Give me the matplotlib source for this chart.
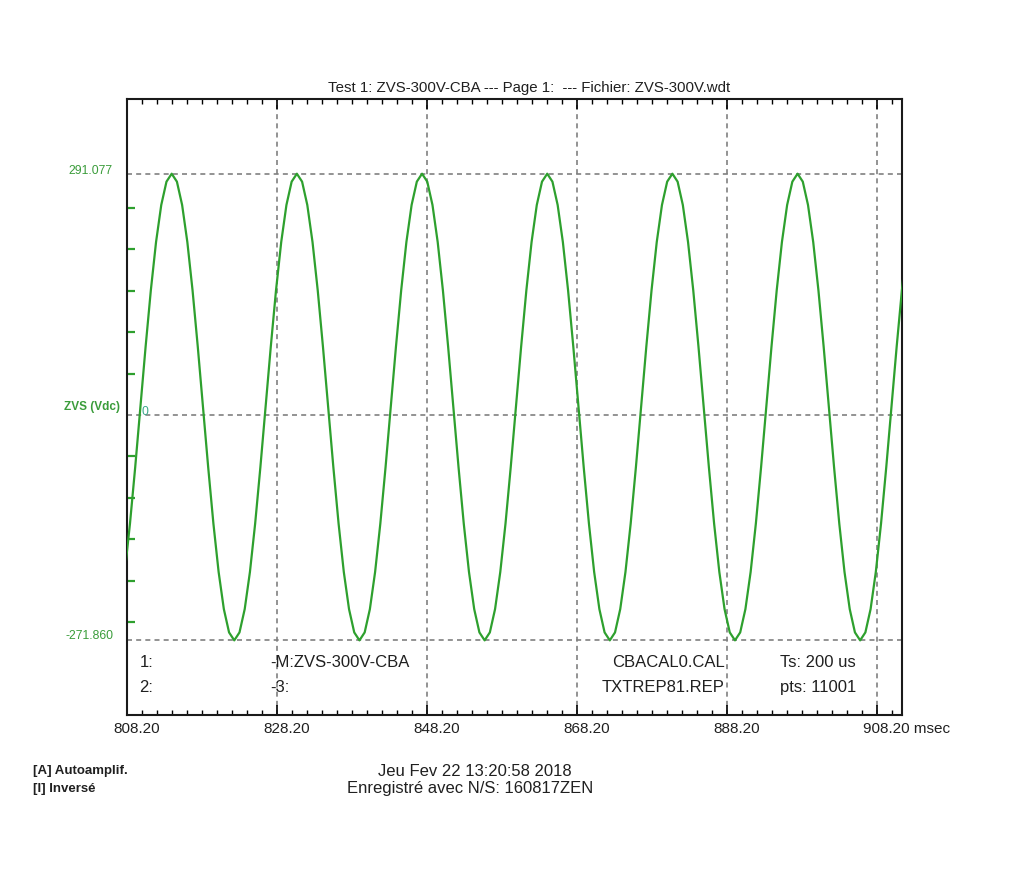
import numpy as np
import matplotlib.pyplot as plt
from matplotlib.transforms import ScaledTranslation

plt.rcParams['font.family'] = ['Liberation Sans', 'DejaVu Sans']

# ZVS trace, one sample every 1/24 cycle (~0.695 ms)
t_start = 807.90   # msec, first sample (just left of the window)
t_step = 0.6954    # msec
zvs = [
    -189.42, -131.13, -63.24, 9.61, 82.46, 150.34, 208.64, 253.37, 281.49, 291.08, 281.49, 253.37,
    208.64, 150.34, 82.46, 9.61, -63.24, -131.13, -189.42, -234.15, -262.27, -271.86, -262.27, -234.15,
    -189.42, -131.13, -63.24, 9.61, 82.46, 150.34, 208.64, 253.37, 281.49, 291.08, 281.49, 253.37,
    208.64, 150.34, 82.46, 9.61, -63.24, -131.13, -189.42, -234.15, -262.27, -271.86, -262.27, -234.15,
    -189.42, -131.13, -63.24, 9.61, 82.46, 150.34, 208.64, 253.37, 281.49, 291.08, 281.49, 253.37,
    208.64, 150.34, 82.46, 9.61, -63.24, -131.13, -189.42, -234.15, -262.27, -271.86, -262.27, -234.15,
    -189.42, -131.13, -63.24, 9.61, 82.46, 150.34, 208.64, 253.37, 281.49, 291.08, 281.49, 253.37,
    208.64, 150.34, 82.46, 9.61, -63.24, -131.13, -189.42, -234.15, -262.27, -271.86, -262.27, -234.15,
    -189.42, -131.13, -63.24, 9.61, 82.46, 150.34, 208.64, 253.37, 281.49, 291.08, 281.49, 253.37,
    208.64, 150.34, 82.46, 9.61, -63.24, -131.13, -189.42, -234.15, -262.27, -271.86, -262.27, -234.15,
    -189.42, -131.13, -63.24, 9.61, 82.46, 150.34, 208.64, 253.37, 281.49, 291.08, 281.49, 253.37,
    208.64, 150.34, 82.46, 9.61, -63.24, -131.13, -189.42, -234.15, -262.27, -271.86, -262.27, -234.15,
    -189.42, -131.13, -63.24, 9.61, 82.46, 150.34, 208.64,
]
t = t_start + t_step * np.arange(len(zvs))

y_max = 291.077
y_min = -271.860
x_major = [808.20, 828.20, 848.20, 868.20, 888.20, 908.20]
x_labels = ['808.20', '828.20', '848.20', '868.20', '888.20', '908.20 msec']
y_ticks = [-250, -200, -150, -100, -50, 50, 100, 150, 200, 250]

green = '#2ea02e'
lab_green = '#3a9c3a'
ink = '#202020'
dash = '#808080'

fig = plt.figure(figsize=(10.30, 8.73), dpi=100)
ax = fig.add_axes([127/1030, 1 - 715/873, 775/1030, 616/873])

ax.plot(t, zvs, color=green, lw=1.6, zorder=3)

ax.set_xlim(808.20, 911.53)
ax.set_ylim(-361.9, 381.2)

# dashed reference lines
for yv in [y_max, 0, y_min]:
    ax.axhline(yv, color=dash, lw=1.2, ls=(0, (3, 2.5)), zorder=1)
for xv in x_major[1:]:
    ax.axvline(xv, color=dash, lw=1.2, ls=(0, (3, 2.5)), zorder=1)

ax.set_xticks(x_major)
ax.set_xticks(np.arange(808.20, 911.5, 2.0), minor=True)
ax.set_xticklabels(x_labels, fontsize=11, color=ink)
ax.tick_params(axis='x', which='major', direction='in', length=7, width=1.2,
               top=True, bottom=True, pad=5, colors='black', labelcolor=ink)
ax.tick_params(axis='x', which='minor', direction='in', length=3.5, width=1.0,
               top=True, bottom=True, colors='black')
off = ScaledTranslation(-14/100, 0, fig.dpi_scale_trans)
for lbl in ax.get_xticklabels():
    lbl.set_ha('left')
    lbl.set_transform(lbl.get_transform() + off)

ax.set_yticks(y_ticks)
ax.set_yticklabels([])
ax.tick_params(axis='y', which='major', direction='in', length=6, width=1.6,
               colors=green, left=True, right=False)

for sp in ax.spines.values():
    sp.set_linewidth(1.5)
    sp.set_color('#1a1a1a')

# y-axis annotations
bt = ax.get_yaxis_transform()
ax.annotate('291.077', xy=(0, y_max), xycoords=bt, xytext=(-14, 3), textcoords='offset pixels',
            ha='right', va='center', fontsize=8.8, color=lab_green)
ax.annotate('-271.860', xy=(0, y_min), xycoords=bt, xytext=(-14, 4), textcoords='offset pixels',
            ha='right', va='center', fontsize=8.8, color=lab_green)
ax.annotate('ZVS (Vdc)', xy=(0, 0), xycoords=bt, xytext=(-7, 8), textcoords='offset pixels',
            ha='right', va='center', fontsize=8.5, fontweight='bold', color=lab_green)
ax.annotate('0', xy=(0, 0), xycoords=bt, xytext=(14, 3), textcoords='offset pixels',
            ha='left', va='center', fontsize=8.8, color='#3aa88a')

# info block inside the plot
fs_in = 12
ax.text(0.016, 0.086, '1:', transform=ax.transAxes, fontsize=fs_in, color=ink, va='center')
ax.text(0.016, 0.044, '2:', transform=ax.transAxes, fontsize=fs_in, color=ink, va='center')
ax.text(0.1845, 0.086, '-M:ZVS-300V-CBA', transform=ax.transAxes, fontsize=fs_in, color=ink, va='center')
ax.text(0.1845, 0.044, '-3:', transform=ax.transAxes, fontsize=fs_in, color=ink, va='center')
ax.text(0.7716, 0.086, 'CBACAL0.CAL', transform=ax.transAxes, fontsize=fs_in, color=ink,
        va='center', ha='right')
ax.text(0.7716, 0.044, 'TXTREP81.REP', transform=ax.transAxes, fontsize=fs_in, color=ink,
        va='center', ha='right')
ax.text(0.8426, 0.086, 'Ts: 200 us', transform=ax.transAxes, fontsize=fs_in, color=ink, va='center')
ax.text(0.8426, 0.044, 'pts: 11001', transform=ax.transAxes, fontsize=fs_in, color=ink, va='center')

# title and footer
fig.text(529/1030, 1 - 88/873, 'Test 1: ZVS-300V-CBA --- Page 1:  --- Fichier: ZVS-300V.wdt',
         ha='center', va='center', fontsize=10.8, color=ink)
fig.text(33/1030, 1 - 771/873, '[A] Autoamplif.', ha='left', va='center',
         fontsize=9.5, fontweight='bold', color=ink)
fig.text(33/1030, 1 - 789/873, '[I] Inversé', ha='left', va='center',
         fontsize=9.5, fontweight='bold', color=ink)
fig.text(475/1030, 1 - 771/873, 'Jeu Fev 22 13:20:58 2018', ha='center', va='center',
         fontsize=12, color=ink)
fig.text(470/1030, 1 - 789/873, 'Enregistré avec N/S: 160817ZEN', ha='center', va='center',
         fontsize=12, color=ink)

fig.savefig('out.png', dpi=100, facecolor='white')
